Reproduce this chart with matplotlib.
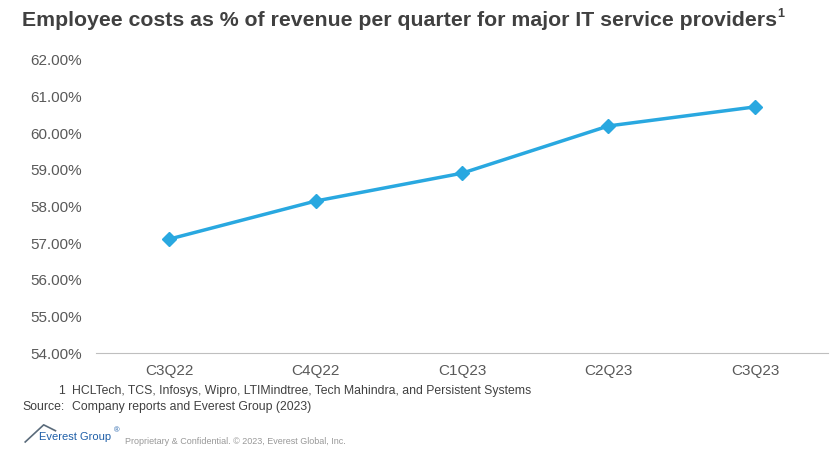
import matplotlib.pyplot as plt
from matplotlib.lines import Line2D
from matplotlib.ticker import FuncFormatter

plt.rcParams['font.family'] = ['Liberation Sans', 'DejaVu Sans']

quarters = ['C3Q22', 'C4Q22', 'C1Q23', 'C2Q23', 'C3Q23']
cost_pct = [57.11, 58.15, 58.91, 60.20, 60.72]

fig = plt.figure(figsize=(8.4, 4.51), dpi=100)
ax = fig.add_axes([0.114, 0.217, 0.872, 0.650])

x = range(len(quarters))
ax.plot(x, cost_pct, color='#29A8E0', lw=2.5, marker='D', ms=7, zorder=3)

ax.set_xlim(-0.5, len(quarters) - 0.5)
ax.set_ylim(54, 62)
ax.set_yticks(range(54, 63))
ax.yaxis.set_major_formatter(FuncFormatter(lambda v, p: f'{v:.2f}%'))
ax.set_xticks(list(x))
ax.set_xticklabels(quarters)
ax.tick_params(axis='both', length=0, labelsize=11, labelcolor='#595959')
ax.tick_params(axis='y', pad=10)
ax.tick_params(axis='x', pad=8)
for s in ['top', 'right', 'left']:
    ax.spines[s].set_visible(False)
ax.spines['bottom'].set_color('#BFBFBF')

fig.text(0.026, 0.955, 'Employee costs as % of revenue per quarter for major IT service providers',
         fontsize=15.3, fontweight='bold', color='#404040', va='center')
fig.text(0.925, 0.968, '1', fontsize=9, fontweight='bold', color='#404040', va='center')

fig.text(0.077, 0.133, '1', fontsize=8.8, color='#404040', ha='right', va='center')
fig.text(0.086, 0.133, 'HCLTech, TCS, Infosys, Wipro, LTIMindtree, Tech Mahindra, and Persistent Systems',
         fontsize=8.8, color='#404040', va='center')
fig.text(0.077, 0.098, 'Source:', fontsize=8.8, color='#404040', ha='right', va='center')
fig.text(0.086, 0.098, 'Company reports and Everest Group (2023)', fontsize=8.8, color='#404040', va='center')

# logo
fig.add_artist(Line2D([0.030, 0.052, 0.066], [0.020, 0.058, 0.045], color='#5A6B7B', lw=1.2))
fig.text(0.047, 0.030, 'Everest Group', fontsize=8, color='#1F5FA8', va='center')
fig.text(0.135, 0.045, '®', fontsize=5.5, color='#1F5FA8', va='center')
fig.text(0.149, 0.020, 'Proprietary & Confidential. © 2023, Everest Global, Inc.',
         fontsize=6.5, color='#999999', va='center')

fig.savefig('out.png', dpi=100)
